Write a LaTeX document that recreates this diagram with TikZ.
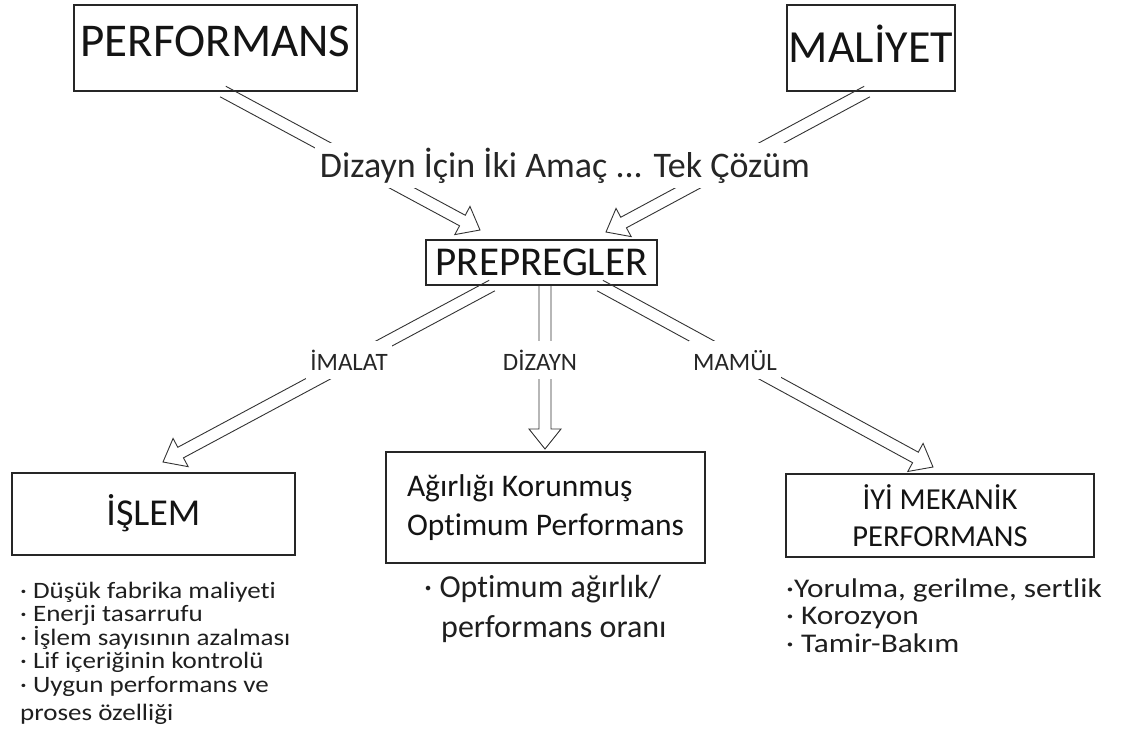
\documentclass[tikz,border=0pt]{standalone}
\usepackage{fontspec}
\setmainfont{Carlito}[Ligatures=NoCommon]
% slightly widened cuts of the same face for the bullet lists
\newfontfamily\listfontA{Carlito}[Ligatures=NoCommon, FakeStretch=1.15]
\newfontfamily\listfontC{Carlito}[Ligatures=NoCommon, FakeStretch=1.16]
\usetikzlibrary{calc}

% font size with baselineskip equal to the size
\newcommand\fsz[1]{\fontsize{#1}{#1}\selectfont}

% stack of lines with a fixed line pitch; baseline of the stack = first line
\newcommand\linestack[2]{\vtop{\baselineskip=#1\lineskiplimit=-100pt\lineskip=0pt #2}}

% hollow double-line arrow from #1 (tail) to #2 (tip)
\newcommand\hollowarrow[2]{%
  \coordinate (hb) at ($(#2)!20pt!(#1)$);
  \draw[arrowline]
    ($(#1)!6pt!90:(#2)$) -- ($(hb)!6pt!-90:(#1)$) -- ($(hb)!16pt!-90:(#1)$)
    -- (#2)
    -- ($(hb)!16pt!90:(#1)$) -- ($(hb)!6pt!90:(#1)$) -- ($(#1)!6pt!-90:(#2)$);}

\tikzset{
  box/.style={draw=black!85, line width=1.1pt, fill=white, inner sep=0pt, text=black!92},
  arrowline/.style={draw=black!80, line width=0.9pt, line join=miter},
  lbl/.style={fill=white, inner xsep=4pt, inner ysep=9pt, text=black!85, font=\fsz{25}},
  bul/.style={inner sep=0pt, anchor=base west, text=black!88},
}

\begin{document}
\begin{tikzpicture}[x=1pt,y=-1pt]
\fill[white] (0,0) rectangle (1126,745);
\useasboundingbox (0,0) rectangle (1126,745);

% top boxes
\node[box, minimum width=283pt, minimum height=86pt, font=\fsz{47},
      text height=30pt, text depth=13pt] (perf) at (215.5,48) {PERFORMANS};
\node[box, minimum width=168pt, minimum height=86pt, font=\fsz{46},
      text height=30pt, text depth=1pt] (mal) at (871,48) {MALİYET};

% central box
\node[box, minimum width=231pt, minimum height=45pt, font=\fsz{41}] (prep) at (541.5,262.5) {PREPREGLER};

% lower boxes
\node[box, minimum width=283pt, minimum height=82pt, font=\fsz{38},
      text height=30pt, text depth=7pt] (isl) at (153.5,514) {İŞLEM};
\node[box, minimum width=319pt, minimum height=111pt, align=left,
      font=\fontsize{31.5}{39}\selectfont] (mid) at (545.5,507.5)
      {Ağırlığı Korunmuş\\Optimum Performans};
\node[box, minimum width=308pt, minimum height=83pt, align=center,
      font=\fontsize{30.5}{37}\selectfont] (iyi) at (940,515.5)
      {İYİ MEKANİK\\PERFORMANS};

% tails and tips of the arrows
\coordinate (tPerf) at ([xshift=7.5pt]perf.south);
\coordinate (tMal)  at ([xshift=-4pt]mal.south);
\coordinate (tImal) at ([xshift=-49.5pt]prep.south);
\coordinate (tDiz)  at ([xshift=3.5pt]prep.south);
\coordinate (tMam)  at ([xshift=58.5pt]prep.south);
\coordinate (hPerf) at (480,230);
\coordinate (hMal)  at (606,232);
\coordinate (hImal) at (163,462);
\coordinate (hDiz)  at (545,449);
\coordinate (hMam)  at (933,467);

\hollowarrow{tPerf}{hPerf}
\hollowarrow{tMal}{hMal}
\hollowarrow{tImal}{hImal}
\hollowarrow{tDiz}{hDiz}
\hollowarrow{tMam}{hMam}

% captions laid over the arrows
\node[fill=white, inner sep=5pt, anchor=base, text=black!85, font=\fsz{36}] (goal) at (565,177)
  {Dizayn İçin İki Amaç ... Tek Çözüm};
\node[lbl, anchor=base] (limal) at (349,370) {İMALAT};
\node[lbl, anchor=base] (ldiz)  at (540,370) {DİZAYN};
\node[lbl, anchor=base] (lmam)  at (735,370) {MAMÜL};

% bullet lists under the lower boxes
\node[bul, font=\listfontA\fsz{23.5}] (listA) at (20,598) {\linestack{23.5pt}{%
  \hbox{· Düşük fabrika maliyeti}
  \hbox{· Enerji tasarrufu}
  \hbox{· İşlem sayısının azalması}
  \hbox{· Lif içeriğinin kontrolü}
  \hbox{· Uygun performans ve}
  \vskip 4.5pt
  \hbox{proses özelliği}}};
\node[bul, font=\fsz{32}] (listB) at (424,597) {\linestack{40pt}{%
  \hbox{· Optimum ağırlık/}
  \hbox{\kern17pt performans oranı}}};
\node[bul, font=\listfontC\fsz{27}] (listC) at (786,597) {\linestack{27pt}{%
  \hbox{·Yorulma, gerilme, sertlik}
  \hbox{· Korozyon}
  \vskip 1.5pt
  \hbox{· Tamir-Bakım}}};
\end{tikzpicture}
\end{document}
